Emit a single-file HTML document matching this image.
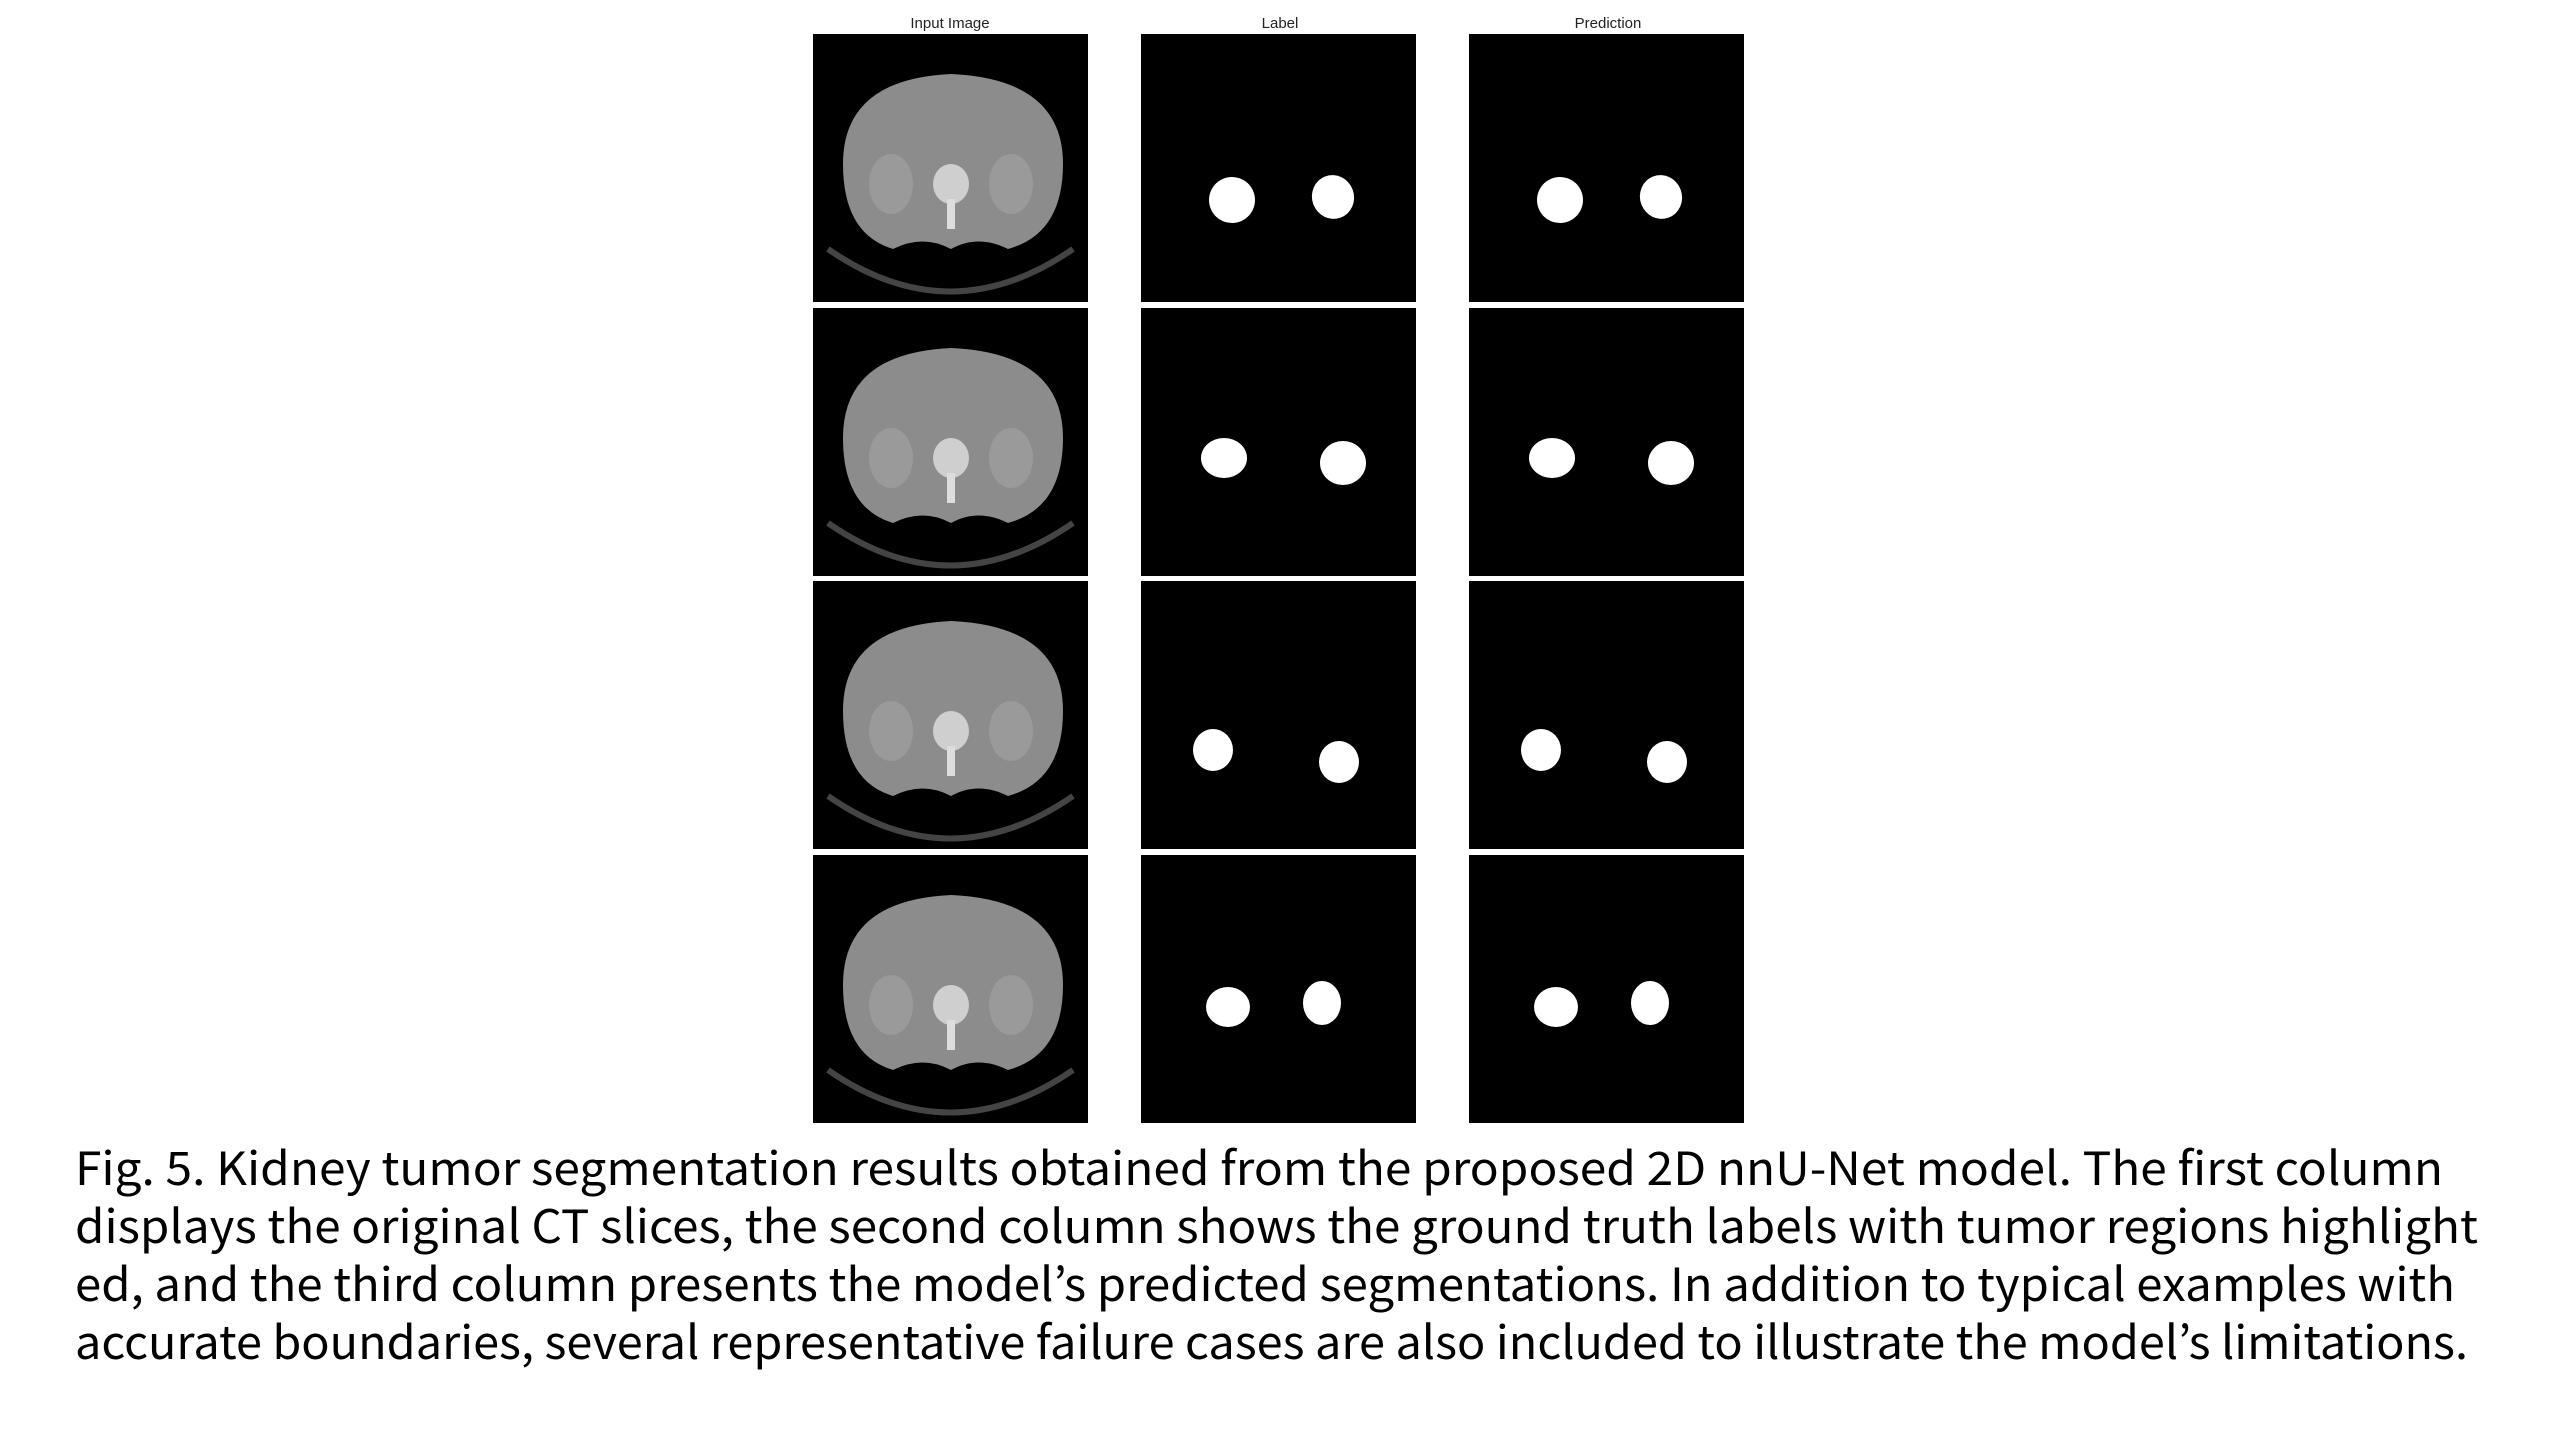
<!DOCTYPE html>
<html><head><meta charset="utf-8"><style>
html,body{margin:0;padding:0;background:#fff;}
svg{display:block}
</style></head><body>
<svg width="2560" height="1440" viewBox="0 0 2560 1440" xmlns="http://www.w3.org/2000/svg">
<rect width="2560" height="1440" fill="#fff"/>
<g font-family="Liberation Sans, DejaVu Sans, sans-serif" font-size="15" fill="#222" text-anchor="middle">
<text x="950" y="28">Input Image</text>
<text x="1280" y="28">Label</text>
<text x="1608" y="28">Prediction</text>
</g>
<defs>
<g id="ct">
<rect x="0" y="0" width="275" height="268" fill="#000"/>
<path d="M15 215 Q137 300 260 215" fill="none" stroke="#444" stroke-width="6"/>
<path d="M30 130 Q30 45 138 40 Q250 45 250 130 Q250 200 195 215 Q165 200 138 215 Q110 200 80 215 Q30 200 30 130Z" fill="#8c8c8c"/>
<ellipse cx="78" cy="150" rx="22" ry="30" fill="#9a9a9a"/>
<ellipse cx="198" cy="150" rx="22" ry="30" fill="#9a9a9a"/>
<ellipse cx="138" cy="150" rx="18" ry="20" fill="#cfcfcf"/>
<rect x="134" y="165" width="8" height="30" fill="#ddd"/>
</g>
<rect id="bk" x="0" y="0" width="275" height="268" fill="#000"/>
</defs>
<g fill="#fff">
<use href="#ct" x="813" y="34"/><use href="#bk" x="1141" y="34"/><use href="#bk" x="1469" y="34"/>
<use href="#ct" x="813" y="308"/><use href="#bk" x="1141" y="308"/><use href="#bk" x="1469" y="308"/>
<use href="#ct" x="813" y="581"/><use href="#bk" x="1141" y="581"/><use href="#bk" x="1469" y="581"/>
<use href="#ct" x="813" y="855"/><use href="#bk" x="1141" y="855"/><use href="#bk" x="1469" y="855"/>
<ellipse cx="1232" cy="200" rx="23" ry="23" transform="rotate(20 1232 200)"/>
<ellipse cx="1333" cy="197" rx="21" ry="22" transform="rotate(-20 1333 197)"/>
<ellipse cx="1560" cy="200" rx="23" ry="23" transform="rotate(20 1560 200)"/>
<ellipse cx="1661" cy="197" rx="21" ry="22" transform="rotate(-20 1661 197)"/>
<ellipse cx="1224" cy="458" rx="23" ry="20"/>
<ellipse cx="1343" cy="463" rx="23" ry="22"/>
<ellipse cx="1552" cy="458" rx="23" ry="20"/>
<ellipse cx="1671" cy="463" rx="23" ry="22"/>
<ellipse cx="1213" cy="750" rx="20" ry="21"/>
<ellipse cx="1339" cy="762" rx="20" ry="21"/>
<ellipse cx="1541" cy="750" rx="20" ry="21"/>
<ellipse cx="1667" cy="762" rx="20" ry="21"/>
<ellipse cx="1228" cy="1007" rx="22" ry="20"/>
<ellipse cx="1322" cy="1003" rx="19" ry="22"/>
<ellipse cx="1556" cy="1007" rx="22" ry="20"/>
<ellipse cx="1650" cy="1003" rx="19" ry="22"/>
</g>
<g font-family="Noto Sans CJK KR, Liberation Sans, sans-serif" font-size="46" fill="#000">
<text x="75" y="1185" textLength="2368" lengthAdjust="spacingAndGlyphs">Fig. 5. Kidney tumor segmentation results obtained from the proposed 2D nnU-Net model. The first column</text>
<text x="75" y="1243" textLength="2403" lengthAdjust="spacingAndGlyphs">displays the original CT slices, the second column shows the ground truth labels with tumor regions highlight</text>
<text x="75" y="1301" textLength="2380" lengthAdjust="spacingAndGlyphs">ed, and the third column presents the model’s predicted segmentations. In addition to typical examples with</text>
<text x="75" y="1359" textLength="2393" lengthAdjust="spacingAndGlyphs">accurate boundaries, several representative failure cases are also included to illustrate the model’s limitations.</text>
</g>
</svg>
</body></html>
